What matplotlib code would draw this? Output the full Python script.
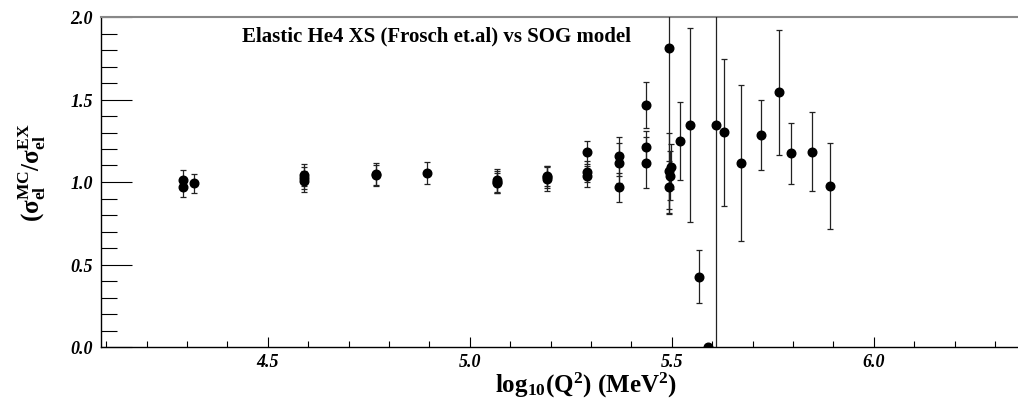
import numpy as np
import matplotlib
matplotlib.use('Agg')
from matplotlib import pyplot as plt
from matplotlib.ticker import MultipleLocator

plt.rcParams['font.family'] = 'Liberation Serif'
plt.rcParams['mathtext.fontset'] = 'custom'
plt.rcParams['mathtext.rm'] = 'Liberation Serif:bold'
plt.rcParams['mathtext.it'] = 'Liberation Serif:bold'
plt.rcParams['mathtext.bf'] = 'Liberation Serif:bold'

# log10(Q^2), ratio MC/EX and error
logQ2 = [4.290, 4.290, 4.317,
         4.590, 4.590, 4.590,
         4.767, 4.767,
         4.893,
         5.068, 5.068, 5.068,
         5.192, 5.192, 5.192,
         5.289, 5.289, 5.289,
         5.370, 5.370, 5.370,
         5.435, 5.435, 5.435,
         5.493, 5.498, 5.493, 5.495, 5.493,
         5.520, 5.545, 5.568, 5.590, 5.610, 5.630,
         5.671, 5.720, 5.766, 5.795, 5.847, 5.891]
ratio = [1.012, 0.967, 0.992,
         1.044, 1.024, 1.004,
         1.040, 1.050,
         1.055,
         1.010, 1.000, 0.995,
         1.030, 1.018, 1.035,
         1.180, 1.063, 1.035,
         1.155, 1.115, 0.968,
         1.467, 1.210, 1.117,
         1.810, 1.093, 1.065, 1.038, 0.968,
         1.247, 1.345, 0.426, 0.000, 1.345, 1.301,
         1.113, 1.285, 1.543, 1.174, 1.184, 0.974]
err = [0.062, 0.058, 0.058,
       0.068, 0.065, 0.065,
       0.066, 0.066,
       0.066,
       0.068, 0.066, 0.062,
       0.068, 0.070, 0.062,
       0.070, 0.066, 0.063,
       0.118, 0.120, 0.088,
       0.137, 0.100, 0.153,
       1.000, 0.135, 0.230, 0.150, 0.160,
       0.235, 0.590, 0.160, 0.000, 1.450, 0.447,
       0.473, 0.213, 0.380, 0.185, 0.240, 0.260]

fig = plt.figure(figsize=(10.18, 4.02), dpi=100)
ax = fig.add_axes([101/1018, 54/402, 917/1018, 330/402])

ax.errorbar(logQ2, ratio, yerr=err, fmt='o', color='k', ms=6.2,
            ecolor='#222222', elinewidth=0.9, capsize=2.2, capthick=0.9,
            clip_on=True, zorder=3)

ax.set_xlim(4.087, 6.357)
ax.set_ylim(0.0, 2.0)

ax.xaxis.set_major_locator(MultipleLocator(0.5))
ax.xaxis.set_minor_locator(MultipleLocator(0.1))
ax.yaxis.set_major_locator(MultipleLocator(0.5))
ax.yaxis.set_minor_locator(MultipleLocator(0.1))
ax.xaxis.set_major_formatter(plt.FormatStrFormatter('%.1f'))
ax.yaxis.set_major_formatter(plt.FormatStrFormatter('%.1f'))

ax.tick_params(axis='x', which='major', direction='in', length=7.2, width=0.8, pad=4)
ax.tick_params(axis='x', which='minor', direction='in', length=4.0, width=0.8)
ax.tick_params(axis='y', which='major', direction='in', length=22.5, width=0.8, pad=6)
ax.tick_params(axis='y', which='minor', direction='in', length=11.5, width=0.8)
for lab in ax.get_xticklabels() + ax.get_yticklabels():
    lab.set_fontsize(13)
    lab.set_fontweight('bold')
    lab.set_fontstyle('italic')

ax.spines['right'].set_visible(False)
ax.spines['top'].set_color('#888888')
ax.spines['top'].set_linewidth(1.5)
for s in ['left', 'bottom']:
    ax.spines[s].set_linewidth(1.0)

ax.set_xlabel(r'log$_{10}$(Q$^{2}$) (MeV$^{2}$)', fontsize=18, fontweight='bold')
ax.xaxis.set_label_coords(0.529, -0.068)
ax.set_ylabel(r'$\mathbf{(\sigma_{el}^{MC}/\sigma_{el}^{EX}}$', fontsize=18)
ax.yaxis.set_label_coords(-0.058, 0.53)

ax.text(0.366, 0.945, 'Elastic He4 XS (Frosch et.al) vs SOG model',
        transform=ax.transAxes, ha='center', va='center',
        fontsize=15, fontweight='bold')

fig.savefig('out.png', dpi=100)
